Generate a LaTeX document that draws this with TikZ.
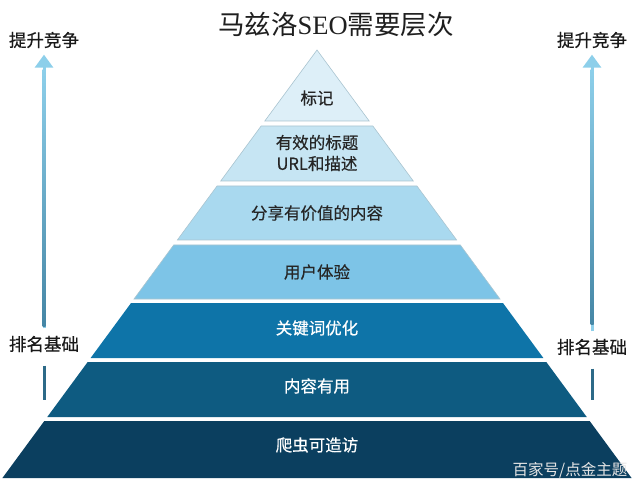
\documentclass[tikz,border=0pt]{standalone}
\usepackage{fontspec}
\setmainfont{Noto Sans CJK SC}
\newfontfamily\labfont{Noto Sans CJK SC}[FakeBold=0.5]
\newfontfamily\seofont{Liberation Serif}
\usepackage{tikz}
\usetikzlibrary{arrows.meta}

\definecolor{sky}{HTML}{8DCFEA}
\definecolor{deep}{HTML}{4586A5}
\definecolor{stemc}{HTML}{2D6A88}
\definecolor{lay1}{HTML}{DDEFF8}
\definecolor{lay2}{HTML}{C6E5F3}
\definecolor{lay3}{HTML}{A9D9EF}
\definecolor{lay4}{HTML}{7DC4E7}
\definecolor{lay5}{HTML}{0E74A8}
\definecolor{lay6}{HTML}{0E5B81}
\definecolor{lay7}{HTML}{0B3F5F}
\definecolor{edge}{HTML}{A9C4D0}

\begin{document}
\begin{tikzpicture}[
    x=1pt, y=-1pt,
    layer/.style={
        font=\labfont\fontsize{16.5}{21}\selectfont,
        text=black!85,
        align=center
    },
    darklayer/.style={layer, text=white},
    side/.style={font=\labfont\fontsize{17.5}{19}\selectfont, text=black!90},
    rise/.style={draw=sky, line width=3pt, -{Triangle[width=18pt,length=13pt]}},
    stem/.style={draw=stemc, line width=3pt}
]
\useasboundingbox (0,0) rectangle (640,489);

\foreach \t/\b/\c/\d in {50/121/lay1/edge, 126/181/lay2/edge, 186/240/lay3/edge,
    245/299/lay4/edge, 303/358/lay5/none, 362/417/lay6/none, 421/478/lay7/none}
    \filldraw[fill=\c, draw=\d, line width=0.6pt]
        ({317-(\t-50)*0.735},\t) -- ({317+(\t-50)*0.735},\t)
        -- ({317+(\b-50)*0.735},\b) -- ({317-(\b-50)*0.735},\b) -- cycle;

\node[font=\fontsize{26.5}{29}\selectfont, text=black!88] (head) at (336,25) {马兹洛{\seofont SEO}需要层次};

\node[layer] (mark) at (317,98) {标记};
\node[layer] (titles) at (317,153) {有效的标题\\URL和描述};
\node[layer] (share) at (317,213) {分享有价值的内容};
\node[layer] (ux) at (317,272) {用户体验};
\node[darklayer] (kw) at (317,328) {关键词优化};
\node[darklayer] (useful) at (317,386) {内容有用};
\node[darklayer] (crawl) at (317,445) {爬虫可造访};

\node[side] (upL) at (44,40) {提升竞争};
\node[side] (baseL) at (44,344) {排名基础};
\node[side] (upR) at (592,40) {提升竞争};
\node[side] (baseR) at (592,347) {排名基础};

\coordinate (endL) at (44,400);
\coordinate (endR) at (592,400);

\draw[rise, shorten <=4pt, shorten >=3pt] (baseL.north) -- (upL.south);
\draw[rise, shorten <=4pt, shorten >=3pt] (baseR.north) -- (upR.south);
\shade[top color=sky, bottom color=deep] (42.5,70) rectangle (45.5,326);
\shade[top color=sky, bottom color=deep] (590.5,70) rectangle (593.5,324);
\draw[stem, shorten <=10pt] (baseL.south) -- (endL);
\draw[stem, shorten <=10pt] (baseR.south) -- (endR);

\node[font=\fontsize{15.5}{16}\selectfont, text=white!90!black] (credit) at (570,470) {百家号/点金主题};
\end{tikzpicture}
\end{document}
